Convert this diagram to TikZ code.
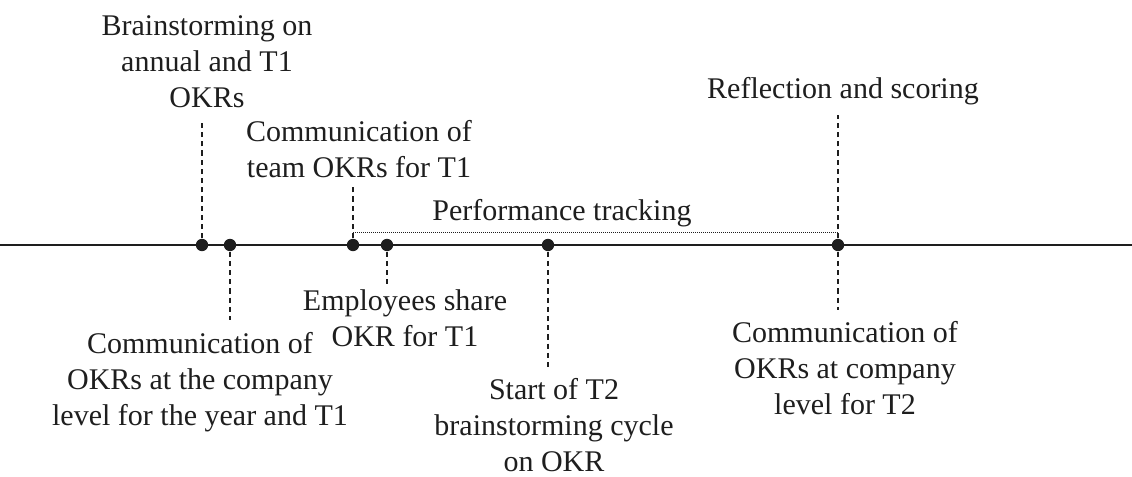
\documentclass[tikz,border=0pt]{standalone}
\usepackage{fontspec}
\setmainfont{Liberation Serif}
\definecolor{ink}{HTML}{1E1E1E}
\tikzset{
  axis/.style={draw=ink, line width=1.4pt},
  event/.style={circle, fill=ink, inner sep=0pt, minimum size=6.2pt},
  lead/.style={draw=ink, line width=0.7pt, dash pattern=on 2.6pt off 2pt},
  span/.style={draw=ink, line width=0.5pt, dash pattern=on 0.5pt off 0.5pt},
  caption/.style={align=center, inner sep=0pt, text=ink, font=\fontsize{15}{18}\selectfont}
}
\begin{document}
\begin{tikzpicture}[x=0.5pt, y=-0.5pt]
\useasboundingbox (0,0) rectangle (1132,477);

% time axis
\coordinate (start) at (0,245);
\coordinate (end) at (1132,245);
\draw[axis] (start) -- (end);

% milestones on the axis
\node[event] (d1) at (202,245) {};
\node[event] (d2) at (230,245) {};
\node[event] (d3) at (353,245) {};
\node[event] (d4) at (387,245) {};
\node[event] (d5) at (548,245) {};
\node[event] (d6) at (838,245) {};

% captions above the axis
\node[caption] (l1) at (207,62) {Brainstorming on\\annual and T1\\OKRs};
\node[caption] (l3) at (359,149) {Communication of\\team OKRs for T1};
\node[caption] (l6a) at (843,91) {Reflection and scoring};
\node[caption] (lp) at (562,213) {Performance tracking};

% captions below the axis
\node[caption] (l2) at (200,382) {Communication of\\OKRs at the company\\level for the year and T1};
\node[caption] (l4) at (405,318) {Employees share\\OKR for T1};
\node[caption] (l5) at (554,425) {Start of T2\\brainstorming cycle\\on OKR};
\node[caption] (l6b) at (845,368) {Communication of\\OKRs at company\\level for T2};

% leader ends
\coordinate (t1) at (202,122);
\coordinate (t3) at (353,185);
\coordinate (t6) at (838,115);
\coordinate (b2) at (230,320);
\coordinate (b4) at (387,285);
\coordinate (b5) at (548,370);
\coordinate (b6) at (838,310);

% dashed leaders
\draw[lead] (d1) -- (t1);
\draw[lead] (d3) -- (t3);
\draw[lead] (d6) -- (t6);
\draw[lead] (d2) -- (b2);
\draw[lead] (d4) -- (b4);
\draw[lead] (d5) -- (b5);
\draw[lead] (d6) -- (b6);

% performance tracking span
\coordinate (p1) at (353,232);
\coordinate (p2) at (838,232);
\draw[span] (p1) -- (p2);
\end{tikzpicture}
\end{document}
